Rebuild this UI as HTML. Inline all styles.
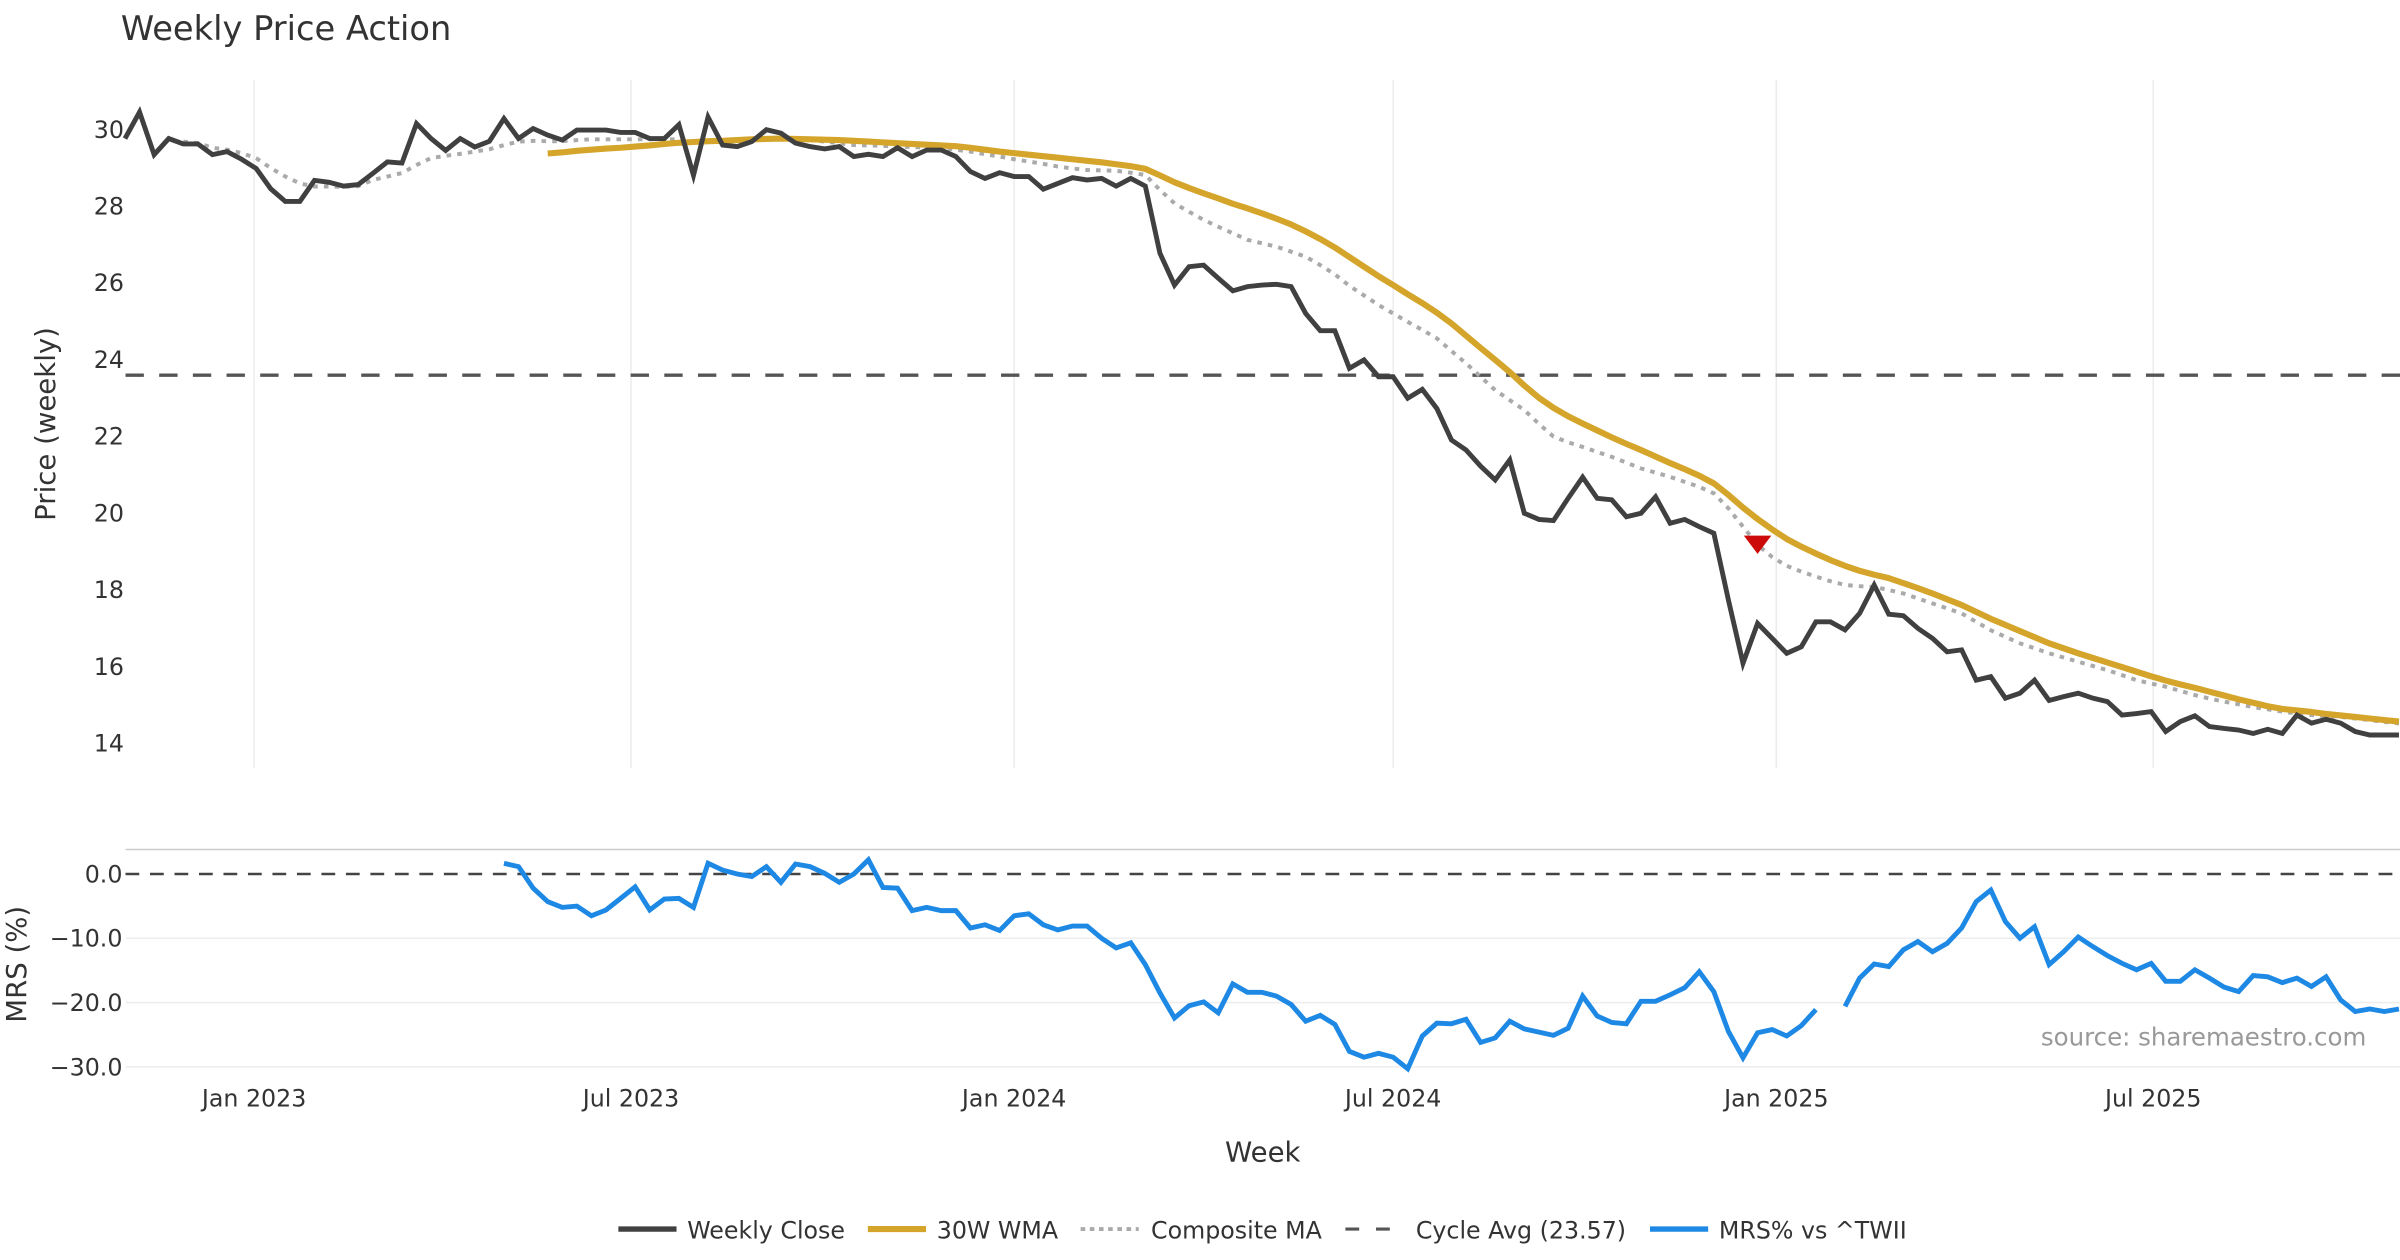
<!DOCTYPE html>
<html><head><meta charset="utf-8"><title>Weekly Price Action</title>
<style>
html,body{margin:0;padding:0;background:#fff;}
svg{display:block;font-family:"DejaVu Sans","Liberation Sans",sans-serif;}
</style></head>
<body>
<svg id="chart" width="2400" height="1260" viewBox="0 0 1568 823.2" xmlns="http://www.w3.org/2000/svg">
<rect x="0" y="0" width="1568" height="823.2" fill="#fff"/>
<text x="79" y="26" font-size="22" fill="#333">Weekly Price Action</text>
<g id="grid"></g>
<g id="price"></g>
<g id="mrs"></g>
<g id="axes"></g>
<text transform="translate(36,277) rotate(-90)" text-anchor="middle" font-size="18" fill="#333">Price (weekly)</text>
<text transform="translate(17,630) rotate(-90)" text-anchor="middle" font-size="18" fill="#333">MRS (%)</text>
<text x="825" y="759" text-anchor="middle" font-size="18" fill="#333">Week</text>
<text x="1546" y="683" text-anchor="end" font-size="16" fill="#999">source: sharemaestro.com</text>
<g font-size="15.5" fill="#333">
  <g><line x1="404" y1="803" x2="442" y2="803" stroke="#404040" stroke-width="3.5"/><text x="449" y="809">Weekly Close</text></g>
  <g><line x1="567" y1="803" x2="605" y2="803" stroke="#D4A52A" stroke-width="4"/><text x="612" y="809">30W WMA</text></g>
  <g><line x1="706" y1="803" x2="744" y2="803" stroke="#aaa" stroke-width="2.5" stroke-dasharray="3,3"/><text x="752" y="809">Composite MA</text></g>
  <g><line x1="879" y1="803" x2="917" y2="803" stroke="#555" stroke-width="2" stroke-dasharray="9,11"/><text x="925" y="809">Cycle Avg (23.57)</text></g>
  <g><line x1="1078" y1="803" x2="1116" y2="803" stroke="#1E88E5" stroke-width="3.5"/><text x="1123" y="809">MRS% vs ^TWII</text></g>
</g>
</svg>
<script>
const startDate = "2022-10-31";
const closeVals = [29.74,30.43,29.32,29.74,29.6,29.6,29.32,29.4,29.2,28.96,28.43,28.1,28.1,28.65,28.6,28.5,28.54,28.83,29.13,29.1,30.13,29.74,29.43,29.74,29.52,29.67,30.26,29.74,30.0,29.83,29.7,29.96,29.96,29.96,29.9,29.9,29.74,29.74,30.1,28.78,30.3,
29.57,29.53,29.66,29.97,29.88,29.62,29.53,29.47,29.53,29.27,29.33,29.27,29.5,29.27,29.44,29.44,29.27,28.88,28.7,28.85,28.75,28.75,28.42,28.57,28.72,28.66,28.7,28.5,28.7,28.5,26.75,25.92,26.4,26.44,26.1,25.77,25.88,25.92,
25.94,25.88,25.18,24.73,24.73,23.75,23.97,23.53,23.53,22.97,23.2,22.7,21.88,21.62,21.2,20.84,21.36,19.97,19.81,19.78,20.36,20.91,20.36,20.32,19.88,19.97,20.4,19.71,19.81,19.62,19.45,17.71,16.06,17.1,16.71,16.32,
16.49,17.14,17.14,16.93,17.36,18.1,17.34,17.3,16.97,16.71,16.36,16.41,15.62,15.71,15.15,15.28,15.62,15.09,15.19,15.28,15.15,15.06,14.71,14.75,14.8,14.28,14.54,14.69,14.41,14.36,14.32,14.23,14.34,14.23,14.71,14.5,14.6,14.5,14.28,14.19,14.19,14.19];
const wmaStart = 29;
const wmaVals = [29.35,29.38,29.42,29.45,29.48,29.5,29.53,29.56,29.6,29.63,29.65,29.67,29.68,29.7,29.72,29.73,29.74,29.73,29.72,29.71,29.7,29.68,29.66,29.64,29.62,29.6,29.58,29.56,29.54,29.5,29.45,29.4,29.36,29.32,29.28,29.24,29.2,29.16,29.12,29.07,29.02,28.95,28.78,28.6,28.45,28.31,28.18,28.04,27.92,27.79,27.65,27.5,27.32,27.12,26.9,26.65,26.4,26.15,25.92,25.68,25.45,25.2,24.92,24.6,24.28,23.97,23.65,23.3,22.98,22.72,22.5,22.31,22.13,21.95,21.78,21.62,21.45,21.28,21.12,20.95,20.75,20.45,20.12,19.82,19.55,19.3,19.1,18.92,18.75,18.6,18.47,18.37,18.28,18.15,18.02,17.88,17.73,17.58,17.4,17.22,17.06,16.9,16.74,16.58,16.45,16.32,16.2,16.08,15.96,15.84,15.72,15.61,15.51,15.42,15.32,15.22,15.12,15.03,14.94,14.87,14.83,14.79,14.74,14.7,14.66,14.62,14.58,14.54];
const compStart = 4;
const compVals = [29.66,29.62,29.5,29.45,29.36,29.23,28.97,28.75,28.57,28.49,28.49,28.48,28.5,28.66,28.75,28.84,29.05,29.23,29.29,29.34,29.4,29.46,29.57,29.66,29.68,29.67,29.67,29.7,29.72,29.72,29.72,29.72,29.72,29.72,29.72,29.64,29.66,29.66,29.7,29.73,29.75,29.74,29.72,29.7,29.66,29.62,29.57,29.56,29.55,29.53,29.52,29.5,29.49,29.45,29.4,29.33,29.27,29.2,29.14,29.08,29.01,28.96,28.92,28.91,28.9,28.85,28.79,28.4,28.05,27.83,27.62,27.44,27.27,27.1,27.01,26.92,26.79,26.66,26.44,26.2,25.9,25.65,25.4,25.18,24.96,24.75,24.53,24.2,23.88,23.53,23.18,22.92,22.66,22.3,21.97,21.82,21.7,21.57,21.44,21.29,21.14,21.03,20.92,20.79,20.66,20.49,20.1,19.62,19.15,18.83,18.6,18.45,18.32,18.2,18.1,18.07,18.05,17.97,17.88,17.75,17.62,17.49,17.36,17.14,16.92,16.75,16.58,16.45,16.32,16.21,16.1,15.99,15.88,15.75,15.62,15.53,15.45,15.34,15.23,15.14,15.06,14.99,14.92,14.86,14.8,14.75,14.71,14.68,14.66,14.62,14.58,14.53,14.49];
const mrsStart = 26;
const mrsVals = [1.66,1.14,-2.2,-4.3,-5.2,-5.0,-6.5,-5.6,-3.8,-2.0,-5.6,-3.9,-3.8,-5.2,1.66,0.6,0,-0.4,1.14,-1.3,1.55,1.14,0.1,-1.3,0,2.2,-2.1,-2.2,-5.7,-5.2,-5.7,-5.7,-8.4,-7.9,-8.8,-6.5,-6.2,-7.9,-8.7,-8.1,-8.1,-10.0,-11.5,-10.7,-14.1,-18.5,-22.4,-20.5,-19.9,-21.6,-17.1,-18.4,-18.4,-19.0,-20.3,-22.9,-22.0,-23.4,-27.6,-28.5,-27.9,-28.5,-30.3,-25.2,-23.2,-23.3,-22.6,-26.2,-25.5,-22.9,-24.1,-24.6,-25.1,-24.0,-19.0,-22.1,-23.1,-23.3,-19.8,-19.8,-18.8,-17.7,-15.2,-18.3,-24.5,-28.6,-24.7,-24.2,-25.2,-23.6,-21.1,null,-20.6,-16.2,-14.0,-14.4,-11.8,-10.5,-12.1,-10.8,-8.4,-4.3,-2.5,-7.4,-10.0,-8.2,-14.1,-12.1,-9.8,-11.3,-12.7,-13.9,-14.9,-13.9,-16.7,-16.7,-14.9,-16.2,-17.6,-18.3,-15.8,-16.0,-16.9,-16.2,-17.5,-16.0,-19.6,-21.4,-21.0,-21.4,-21.0];
const cycleAvg = 23.57;
const signalIndex = 112;
const signalValue = 19.15;
const priceTicks = [14,16,18,20,22,24,26,28,30];
const mrsTicks = [0,-10,-20,-30];
const mrsTickLabels = ["0.0","\u221210.0","\u221220.0","\u221230.0"];
const xTickDates = ["2023-01-01","2023-07-01","2024-01-01","2024-07-01","2025-01-01","2025-07-01"];
const xTickLabels = ["Jan 2023","Jul 2023","Jan 2024","Jul 2024","Jan 2025","Jul 2025"];

const NS="http://www.w3.org/2000/svg";
const DAY=86400000, ref=Date.parse("2023-01-01T00:00:00Z"), t0=Date.parse(startDate+"T00:00:00Z");
function xDate(s){return 166+(Date.parse(s+"T00:00:00Z")-ref)/DAY*1.3605;}
function xIdx(i){return 166+((t0+i*7*DAY)-ref)/DAY*1.3605;}
function yP(v){return 84+(30-v)*25.06;}
function yM(v){return 571-v*4.2;}
function mk(tag,attrs,parent){const e=document.createElementNS(NS,tag);for(const k in attrs)e.setAttribute(k,attrs[k]);parent.appendChild(e);return e;}
const grid=document.getElementById('grid'),price=document.getElementById('price'),mrs=document.getElementById('mrs'),axes=document.getElementById('axes');
const X0=82,X1=1568;

xTickDates.forEach((d,k)=>{
  const x=xDate(d);
  const g=mk('line',{x1:x,y1:52,x2:x,y2:502,stroke:'#ececec','stroke-width':1},grid);
  
  
  const t=mk('text',{x:x,y:723,'text-anchor':'middle','font-size':15.5,fill:'#333'},axes);
  t.textContent=xTickLabels[k];
  
  
});
priceTicks.forEach(v=>{
  const t=mk('text',{x:81,y:yP(v)+6,'text-anchor':'end','font-size':15.5,fill:'#333'},axes);
  t.textContent=String(v);
  
  
});
const sep=mk('line',{x1:X0,y1:555,x2:X1,y2:555,stroke:'#ccc','stroke-width':1},axes);


mrsTicks.forEach((v,k)=>{
  if(v!==0){
    const g=mk('line',{x1:X0,y1:yM(v),x2:X1,y2:yM(v),stroke:'#eee','stroke-width':1},grid);
    
    
  }
  const t=mk('text',{x:80,y:yM(v)+5.5,'text-anchor':'end','font-size':15.5,fill:'#333'},axes);
  t.textContent=mrsTickLabels[k];
  
  
});

function pathFrom(vals,start,yf){
  let d='',pen=false;
  vals.forEach((v,j)=>{
    if(v===null||v===undefined){pen=false;return;}
    const x=xIdx(start+j),y=yf(v);
    d+=(pen?'L':'M')+x.toFixed(2)+','+y.toFixed(2);pen=true;
  });
  return d;
}
const cyc=mk('line',{x1:X0,y1:yP(cycleAvg),x2:X1,y2:yP(cycleAvg),stroke:'#555','stroke-width':2.2,'stroke-dasharray':'12,10'},price);


const cm=mk('path',{d:pathFrom(compVals,compStart,yP),fill:'none',stroke:'#aaa','stroke-width':2.6,'stroke-dasharray':'3,4'},price);


const wm=mk('path',{d:pathFrom(wmaVals,wmaStart,yP),fill:'none',stroke:'#D4A52A','stroke-width':4,'stroke-linejoin':'round'},price);


const cl=mk('path',{d:pathFrom(closeVals,0,yP),fill:'none',stroke:'#404040','stroke-width':3.2,'stroke-linejoin':'miter'},price);


const sx=xIdx(signalIndex),sy=yP(signalValue);
const tri=mk('path',{d:`M${sx-9},${sy-6}L${sx+9},${sy-6}L${sx},${sy+6}Z`,fill:'#CC0A0A'},price);



const zero=mk('line',{x1:X0,y1:yM(0),x2:X1,y2:yM(0),stroke:'#444','stroke-width':1.6,'stroke-dasharray':'9,7'},mrs);


const ml=mk('path',{d:pathFrom(mrsVals,mrsStart,yM),fill:'none',stroke:'#1E88E5','stroke-width':3.2,'stroke-linejoin':'miter'},mrs);


</script>
</body></html>
